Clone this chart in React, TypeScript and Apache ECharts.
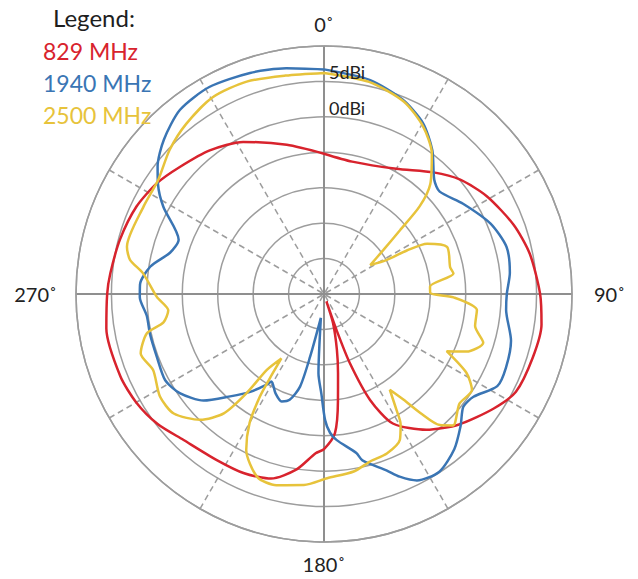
import React, { useEffect, useRef } from "react";
import * as echarts from "echarts";

// ---- data (gain in dBi at azimuth angle in degrees, clockwise from top) ----
const seriesNames = ["829 MHz", "1940 MHz", "2500 MHz"];
const seriesColors = ["#d8232d", "#3a75b4", "#e7c33b"];

const majorAngleTicks = [0, 90, 180, 270];
const gainTickLabels = [0, 5];

const redAngles = [0, 12, 30, 42, 50, 59, 70, 79, 90, 98, 107, 117, 124, 134, 143, 152, 156.5, 159.5, 160.8, 162, 162.8, 167, 170, 172.5, 175.5, 180, 183, 189, 196, 204, 213, 224, 232, 240, 248, 261, 270, 275.5, 285, 295, 303.5, 311.5, 321.5, 332, 346, 360];
const redGain = [-5.2, -5.9, -4.6, -1.9, 0.1, 1.8, 3.5, 4.6, 5.5, 6.0, 5.8, 5.4, 3.9, 1.5, -1.0, -4.3, -8.7, -14.6, -19.6, -23.9, -20.7, -16.9, -13.6, -9.9, -5.3, -3.1, -2.5, 0.1, 2.1, 2.7, 2.9, 3.6, 4.8, 5.6, 6.0, 6.1, 5.6, 5.3, 4.8, 4.2, 3.3, 2.1, 0.9, -0.7, -3.3, -5.2];

const blueAngles = [0, 12, 22, 30, 37, 44, 48.5, 57, 67, 75.5, 83.5, 90, 95, 104, 112, 118, 124.5, 129, 134, 140, 147, 153.5, 157.5, 160.5, 167, 168.5, 175, 177.5, 179.5, 181.5, 184, 187.5, 192.5, 194.5, 198, 201.5, 206, 211, 212.5, 217, 222.5, 228.5, 235.5, 241.5, 249.5, 257, 263, 269, 273, 279, 285, 290.5, 298.5, 303.5, 307.5, 314, 322, 331, 341.5, 350.5, 360];
const blueGain = [6.7, 5.9, 4.6, 2.9, 0.4, -2.6, -3.2, -1.6, 0.5, 1.6, 1.4, 0.8, 0.8, 2.2, 2.7, 2.7, 0.6, 0.3, 1.8, 3.6, 4.9, 4.4, 2.9, 1.4, -0.9, -2.1, -4.3, -5.4, -7.2, -10.9, -13.8, -21.6, -15.9, -11.5, -9.3, -8.7, -9.4, -10.6, -9.8, -7.7, -5.4, -2.3, -0.3, 0.5, 0.2, 0.2, 0.2, 1.0, 1.0, -0.2, -2.5, -3.1, 0.8, 3.1, 4.6, 6.4, 8.0, 8.4, 7.9, 7.3, 6.7];

const yellowAngles = [0, 12, 22.5, 30.5, 37.5, 44, 47.5, 50, 53.5, 58, 61.5, 62.3, 64, 69, 78, 81, 86, 89.5, 91.5, 96, 102, 107, 112, 115, 119, 123, 129, 135.5, 138.5, 141, 143, 145.5, 148, 149.5, 152.5, 158.5, 164.5, 170.5, 179, 186, 194, 200, 206.5, 210, 212, 212.7, 213.5, 217, 218, 220, 224.5, 231.5, 238, 246, 252, 257.5, 260, 264, 269, 276.5, 280, 283.5, 296, 304.5, 313, 321, 330.5, 340, 350, 360];
const yellowGain = [6.2, 5.6, 4.4, 2.5, 0.0, -3.4, -6.7, -11.0, -14.6, -17.3, -14.9, -11.8, -8.8, -6.4, -6.8, -6.5, -10.0, -10.0, -6.7, -3.3, -3.2, -1.5, -3.3, -5.9, -2.0, -0.1, -0.4, 1.0, -0.3, -3.4, -6.3, -8.6, -5.7, -3.7, -1.8, -0.8, -0.5, 0.4, 1.0, 2.1, 2.8, 2.5, -0.4, -4.0, -7.9, -10.7, -14.1, -11.6, -7.2, -3.0, -0.1, 2.1, 2.3, 1.4, 2.2, 0.6, -2.0, -2.9, -1.4, 0.7, 2.8, 3.6, 3.3, 3.4, 4.8, 5.9, 6.9, 6.9, 6.3, 6.2];

const allAngles = [redAngles, blueAngles, yellowAngles];
const allGains = [redGain, blueGain, yellowGain];

const FONT = "Lato, 'Open Sans', 'Noto Sans', sans-serif";
const GRID = "#9d9d9d";

function angleLabel(v: number): string {
  if (!majorAngleTicks.includes(v)) return "";
  if (v === 90) return `{r|${v}˚}`;
  if (v === 270) return `{l|${v}˚}`;
  return `{c|${v}˚}`;
}

function buildOption(): any {
  const center = [324, 294];
  const radius = 248;
  const radial = { min: -25, max: 10, interval: 5 };
  const labelText = { fontSize: 20, color: "#222", fontFamily: FONT };
  return {
    animation: false,
    backgroundColor: "#ffffff",
    textStyle: { fontFamily: FONT },
    title: {
      text: "Legend:",
      left: 48,
      top: 0,
      textStyle: { fontSize: 24, fontWeight: "normal", color: "#1e1e1e", fontFamily: FONT },
    },
    legend: {
      orient: "vertical",
      left: 33,
      top: 34,
      icon: "none",
      itemWidth: 0,
      itemGap: 9,
      selectedMode: false,
      textStyle: { fontSize: 23, fontFamily: FONT },
      data: seriesNames.map((n, i) => ({ name: n, textStyle: { color: seriesColors[i], fontSize: 23 } })),
    },
    polar: [
      { center, radius },
      { center, radius },
    ],
    angleAxis: [
      {
        polarIndex: 0,
        type: "value",
        min: 0,
        max: 360,
        interval: 30,
        startAngle: 90,
        clockwise: true,
        axisLine: { show: true, lineStyle: { color: GRID, width: 1.5 } },
        axisTick: { show: false },
        axisLabel: { show: false },
        splitLine: { show: true, lineStyle: { color: GRID, width: 1.5, type: [6, 4] } },
      },
      {
        polarIndex: 1,
        type: "value",
        min: 0,
        max: 360,
        interval: 90,
        startAngle: 90,
        clockwise: true,
        axisLine: { show: false },
        axisTick: { show: false },
        axisLabel: {
          show: true,
          margin: 12,
          ...labelText,
          formatter: angleLabel,
          rich: {
            c: { ...labelText },
            r: { ...labelText, padding: [0, 0, 0, 10] },
            l: { ...labelText, padding: [0, 7, 0, 0] },
          },
        },
        splitLine: { show: true, lineStyle: { color: "#8f8f8f", width: 2, type: "solid" } },
      },
    ],
    radiusAxis: [
      {
        polarIndex: 0,
        ...radial,
        axisLine: { show: false },
        axisTick: { show: false },
        axisLabel: { show: false },
        splitLine: { show: true, lineStyle: { color: GRID, width: 1.5 } },
      },
      {
        polarIndex: 1,
        ...radial,
        z: 10,
        axisLine: { show: false },
        axisTick: { show: false },
        splitLine: { show: false },
        axisLabel: {
          show: true,
          fontSize: 18,
          color: "#222",
          fontFamily: FONT,
          align: "left",
          verticalAlign: "bottom",
          margin: -5,
          formatter: (v: number) => (gainTickLabels.includes(v) ? `${v}dBi` : ""),
        },
      },
    ],
    series: seriesNames.map((name, i) => ({
      name,
      type: "line",
      coordinateSystem: "polar",
      polarIndex: 0,
      showSymbol: false,
      symbol: "none",
      smooth: 0.25,
      lineStyle: { color: seriesColors[i], width: 2.5 },
      itemStyle: { color: seriesColors[i] },
      data: allAngles[i].map((a, k) => [allGains[i][k], a]),
      z: 3 + i,
    })),
  };
}

export default function App() {
  const ref = useRef<HTMLDivElement>(null);
  useEffect(() => {
    document.body.style.margin = "0";
    const chart = echarts.init(ref.current!, null, { renderer: "svg" });
    chart.setOption(buildOption());
    return () => chart.dispose();
  }, []);
  return <div ref={ref} style={{ width: 638, height: 579 }} />;
}
